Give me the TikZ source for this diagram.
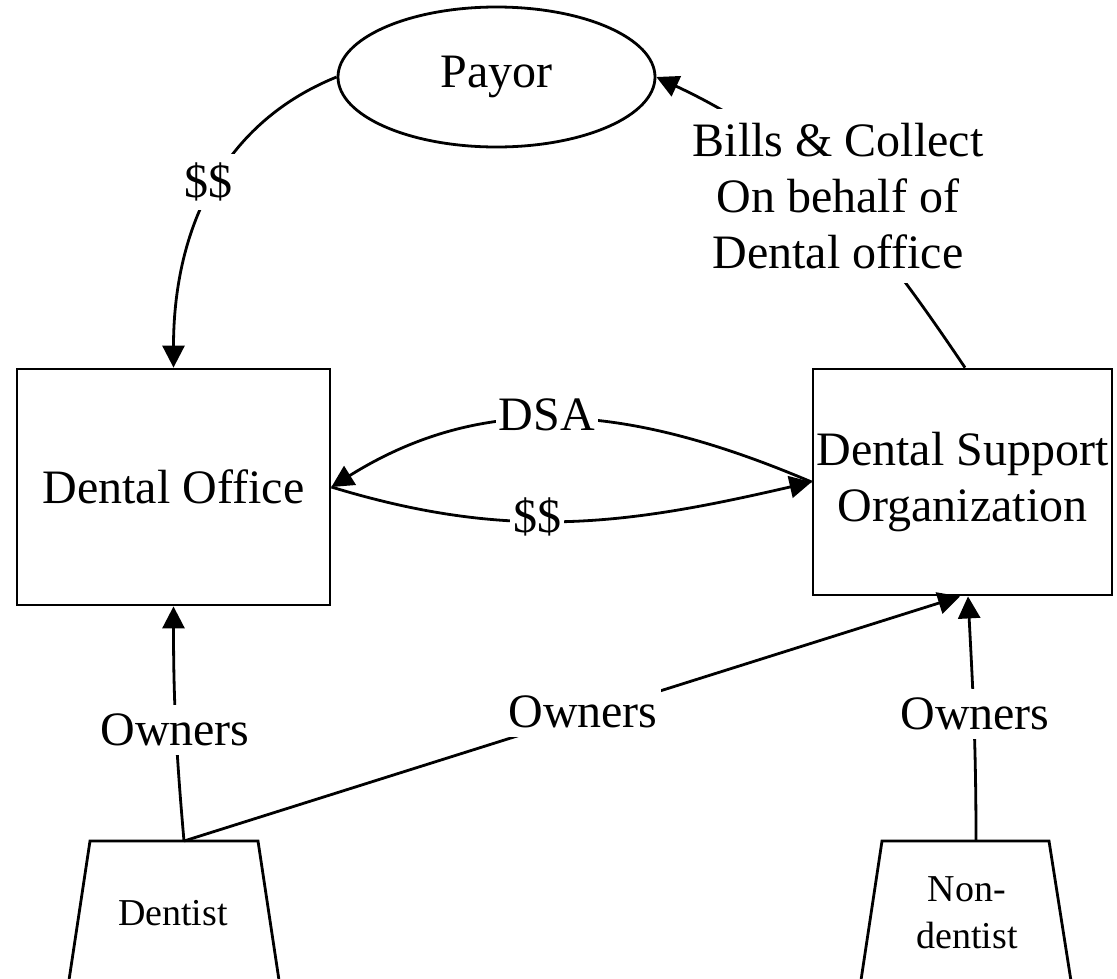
\documentclass[tikz,border=0pt]{standalone}
\usepackage{fontspec}
\setmainfont{Liberation Serif}
\usetikzlibrary{arrows.meta,shapes.geometric}
\begin{document}
\begin{tikzpicture}[x=1pt,y=1pt,
  line width=2.8pt,
  every node/.style={font=\fontsize{48}{56}\selectfont},
  box/.style={draw, rectangle, align=center, inner sep=0pt},
  lbl/.style={fill=white, inner xsep=3pt, inner ysep=9pt, align=center},
  small/.style={font=\fontsize{38}{47}\selectfont, align=center},
  arr/.style={-{Triangle[length=22pt,width=22pt]}},
]
\clip (0,0) rectangle (1117,-978);
% main nodes
\node[draw, ellipse, minimum width=317pt, minimum height=140pt, inner sep=0pt] (payor) at (496.5,-77) {Payor};
\node[box, minimum width=313pt, minimum height=236pt] (office) at (173.5,-487) {Dental Office};
\node[box, minimum width=299pt, minimum height=226pt] (dso) at (962.5,-482) {Dental Support\\Organization};
% trapezoids
\draw[line join=miter] (66,-1000) -- (90,-841) -- (258,-841) -- (282,-1000);
\coordinate (dtop) at (184,-841);
\node[small] (dentist) at (173,-913) {Dentist};
\draw[line join=miter] (858,-1000) -- (882,-841) -- (1049,-841) -- (1074,-1000);
\coordinate (ntop) at (976,-841);
\node[small] (nondentist) at (967,-913) {Non-\\dentist};
% connectors
\draw[arr] (payor.west) to[out=202,in=90] (office.north);
\draw[arr] ([xshift=2.5pt]dso.north) to[out=124,in=335] (payor.east);
\draw[arr] (dso.west) to[out=157,in=32] (office.east);
\draw[arr] (office.east) to[out=343,in=193] (dso.west);
\draw[arr] (dtop) to[out=95,in=270] (office.south);
\draw[arr] (dtop) -- ([xshift=-2.5pt]dso.south);
\draw[arr] (ntop) to[out=90,in=273] ([xshift=5.5pt]dso.south);
% labels
\node[lbl] (l1) at (208,-182) {\$\$};
\node[lbl, inner ysep=14pt] (l2) at (838,-196) {Bills \& Collect\\On behalf of\\Dental office};
\node[lbl] (l3) at (547,-415) {DSA};
\node[lbl] (l4) at (537,-517) {\$\$};
\node[lbl] (l5) at (175,-730) {Owners};
\node[lbl] (l6) at (583,-712) {Owners};
\node[lbl] (l7) at (975,-714) {Owners};
\end{tikzpicture}
\end{document}
